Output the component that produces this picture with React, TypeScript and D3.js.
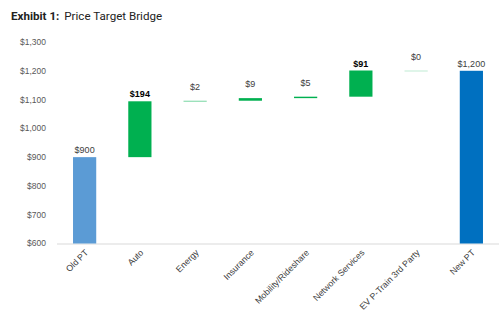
import React from "react";
import * as d3 from "d3";

const categories = ["Old PT", "Auto", "Energy", "Insurance", "Mobility/Rideshare", "Network Services", "EV P-Train 3rd Party", "New PT"];
const values = [900, 194, 2, 9, 5, 91, 0, 1200];
const kinds = ["total", "delta", "delta", "delta", "delta", "delta", "delta", "total"];
const labels = ["$900", "$194", "$2", "$9", "$5", "$91", "$0", "$1,200"];
const boldLabels = [false, true, false, false, false, true, false, false];
const yTicks = [600, 700, 800, 900, 1000, 1100, 1200, 1300];

const W = 500, H = 326;
const FONT = "'Liberation Sans', Arial, sans-serif";

export default function App() {
  const x = d3.scaleBand<string>().domain(categories).range([57, 499]).paddingInner(0.58).paddingOuter(0.29);
  const y = d3.scaleLinear().domain([600, 1300]).range([243.5, 42]);
  const fmt = (v: number) => "$" + d3.format(",")(v);

  let run = 0;
  const bars = categories.map((c, i) => {
    let lo: number, hi: number;
    if (kinds[i] === "total") { lo = 600; hi = values[i]; run = values[i]; }
    else { lo = run; hi = run + values[i]; run = hi; }
    const color = i === 0 ? "#5B9BD5" : i === categories.length - 1 ? "#0070C0" : "#00B050";
    const top = y(hi), bottom = y(lo);
    let h = bottom - top;
    let opacity = 1;
    if (h < 1) { opacity = 0.25 + 0.5 * h; h = 1; }
    return { c, i, top, h, color, opacity, small: kinds[i] === "delta" && values[i] < 20 };
  });

  return (
    <svg width={W} height={H} style={{ position: "absolute", left: 0, top: 0, background: "#fff" }}>
      <text x={11} y={20} fontFamily="Roboto, sans-serif" fontSize={11.6} fill="#222">
        <tspan fontWeight="bold">Exhibit 1:</tspan>
        <tspan dx={5}>Price Target Bridge</tspan>
      </text>
      {yTicks.map(t => (
        <text key={t} x={46} y={y(t)} dy="0.35em" textAnchor="end" fontFamily={FONT} fontSize={8.5} fill="#595959">{fmt(t)}</text>
      ))}
      <line x1={57} x2={499} y1={244} y2={244} stroke="#d9d9d9" strokeWidth={1} />
      {bars.map(b => (
        <g key={b.c}>
          <rect x={x(b.c)!} y={b.top} width={x.bandwidth()} height={b.h} fill={b.color} fillOpacity={b.opacity} />
          <text x={x(b.c)! + x.bandwidth() / 2} y={b.top - (b.small || values[b.i] === 0 ? 14 : 7)} dy="0.35em" textAnchor="middle"
            fontFamily={FONT} fontSize={9} fontWeight={boldLabels[b.i] ? "bold" : "normal"} fill={boldLabels[b.i] ? "#000" : "#404040"}>
            {labels[b.i]}
          </text>
        </g>
      ))}
      {categories.map(c => {
        const cx = x(c)! + x.bandwidth() / 2;
        return (
          <text key={c} transform={`translate(${cx + 2},${251}) rotate(-45)`} textAnchor="end" dy="0.35em"
            fontFamily={FONT} fontSize={8.8} fill="#404040">{c}</text>
        );
      })}
    </svg>
  );
}
